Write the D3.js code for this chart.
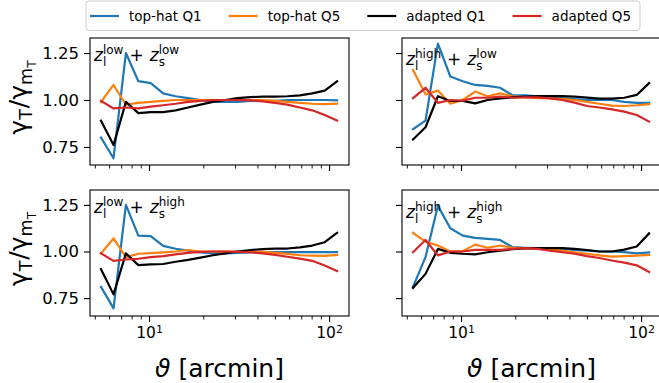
<!DOCTYPE html>
<html><head><meta charset="utf-8">
<script src="https://cdn.jsdelivr.net/npm/d3@7"></script>
<style>body{margin:0;background:#fff}svg{display:block;font-family:"DejaVu Sans",sans-serif}</style>
</head><body><svg id="c" width="659" height="383"></svg>
<script>
// ---------- data ----------
const theta = [5.41, 6.35, 7.44, 8.72, 10.22, 11.98, 14.05, 16.47, 19.30, 22.63,
               26.52, 31.09, 36.45, 42.72, 50.08, 58.70, 68.81, 80.66, 94.55, 110.8];
const seriesNames = ["top-hat Q1", "top-hat Q5", "adapted Q1", "adapted Q5"];
const seriesColors = ["#1f77b4", "#ff7f0e", "#000000", "#d62728"];
const panelLens = ["low", "high", "low", "high"];
const panelSrc  = ["low", "low", "high", "high"];
const yTicks = [0.75, 1.00, 1.25];
const xMajor = [10, 100];
const xMinor = [5, 6, 7, 8, 9, 20, 30, 40, 50, 60, 70, 80, 90];

// top-left: z_l low + z_s low
const tlTopHatQ1 = [0.80, 0.69, 1.25, 1.10, 1.09, 1.035, 1.02, 1.01, 1.00, 0.99, 0.99, 0.99, 0.995, 0.995, 0.995, 1.0, 1.0, 1.0, 1.0, 0.998];
const tlTopHatQ5 = [0.99, 1.08, 0.975, 0.985, 0.99, 0.995, 1.0, 1.0, 1.0, 1.0, 1.0, 1.0, 1.0, 1.0, 0.995, 0.99, 0.985, 0.98, 0.978, 0.98];
const tlAdaptQ1  = [0.89, 0.76, 0.99, 0.93, 0.935, 0.935, 0.945, 0.96, 0.975, 0.99, 1.0, 1.01, 1.015, 1.018, 1.018, 1.02, 1.025, 1.035, 1.05, 1.10];
const tlAdaptQ5  = [0.995, 0.955, 0.96, 0.955, 0.965, 0.972, 0.98, 0.99, 0.995, 1.0, 1.0, 1.0, 0.998, 0.993, 0.985, 0.975, 0.96, 0.945, 0.92, 0.89];
// top-right: z_l high + z_s low
const trTopHatQ1 = [0.845, 0.89, 1.30, 1.125, 1.10, 1.08, 1.075, 1.065, 1.025, 1.025, 1.02, 1.015, 1.01, 1.005, 1.0, 1.0, 1.0, 0.99, 0.985, 0.985];
const trTopHatQ5 = [1.16, 1.03, 1.05, 0.98, 1.0, 1.045, 1.02, 1.035, 1.02, 1.015, 1.01, 1.01, 1.005, 1.0, 0.99, 0.98, 0.97, 0.968, 0.972, 0.978];
const trAdaptQ1  = [0.79, 0.855, 1.02, 0.995, 0.995, 0.982, 1.0, 1.009, 1.014, 1.018, 1.021, 1.021, 1.021, 1.018, 1.013, 1.007, 1.007, 1.012, 1.027, 1.09];
const trAdaptQ5  = [1.01, 1.065, 0.985, 1.0, 0.996, 1.012, 1.012, 1.018, 1.012, 1.014, 1.014, 1.009, 1.0, 0.986, 0.968, 0.96, 0.95, 0.938, 0.92, 0.885];
// bottom-left: z_l low + z_s high
const blTopHatQ1 = [0.81, 0.695, 1.25, 1.085, 1.083, 1.03, 1.015, 1.005, 0.995, 0.99, 0.99, 0.993, 0.995, 0.997, 0.997, 0.997, 0.997, 0.997, 0.997, 0.997];
const blTopHatQ5 = [0.99, 1.07, 0.97, 0.988, 0.991, 0.995, 1.0, 1.008, 1.0, 1.0, 1.0, 1.0, 1.0, 0.998, 0.993, 0.987, 0.98, 0.978, 0.977, 0.982];
const blAdaptQ1  = [0.905, 0.77, 0.99, 0.927, 0.931, 0.933, 0.945, 0.955, 0.967, 0.98, 0.99, 1.0, 1.008, 1.013, 1.015, 1.016, 1.022, 1.032, 1.05, 1.10];
const blAdaptQ5  = [0.99, 0.95, 0.957, 0.961, 0.97, 0.975, 0.985, 0.993, 0.998, 1.0, 1.0, 0.998, 0.996, 0.99, 0.982, 0.972, 0.962, 0.95, 0.925, 0.895];
// bottom-right: z_l high + z_s high
const brTopHatQ1 = [0.81, 0.97, 1.245, 1.125, 1.085, 1.073, 1.068, 1.062, 1.023, 1.02, 1.018, 1.015, 1.012, 1.008, 1.005, 1.0, 1.0, 0.997, 0.99, 0.995];
const brTopHatQ5 = [1.10, 1.053, 1.032, 1.0, 1.002, 1.037, 1.02, 1.032, 1.019, 1.018, 1.015, 1.011, 1.005, 0.996, 0.988, 0.979, 0.973, 0.975, 0.978, 0.982];
const brAdaptQ1  = [0.805, 0.88, 1.014, 0.993, 0.988, 0.985, 0.996, 1.005, 1.012, 1.017, 1.018, 1.018, 1.018, 1.014, 1.008, 1.0, 1.0, 1.01, 1.027, 1.097];
const brAdaptQ5  = [0.996, 1.062, 0.979, 1.0, 1.0, 1.009, 1.009, 1.009, 1.014, 1.018, 1.014, 1.005, 0.996, 0.988, 0.975, 0.965, 0.952, 0.94, 0.926, 0.89];

const panelData = [
  [tlTopHatQ1, tlTopHatQ5, tlAdaptQ1, tlAdaptQ5],
  [trTopHatQ1, trTopHatQ5, trAdaptQ1, trAdaptQ5],
  [blTopHatQ1, blTopHatQ5, blAdaptQ1, blAdaptQ5],
  [brTopHatQ1, brTopHatQ5, brAdaptQ1, brAdaptQ5]
];

// ---------- layout ----------
const svg = d3.select("#c");
const colX = [90, 402], panelW = 259;
const rowY = [38, 190], panelH = [127, 126];
const xDomain = [4.7, 129], yDomain = [0.654, 1.33];
const FONT = '"DejaVu Sans", sans-serif';

function measure(p) {
  const t = svg.append("text").attr("font-size", p.size).attr("font-family", FONT)
    .attr("font-style", p.italic ? "italic" : null).text(p.text);
  const w = t.node().getComputedTextLength();
  t.remove();
  return w;
}
// one <text> element made of tspans, mimicking mathtext sub/superscripts
function mathText(g, parts) {
  const t = g.append("text").attr("x", 0).attr("y", 0).attr("font-family", FONT).attr("fill", "#000");
  let cur = 0, prevStart = 0, maxEnd = 0, curDy = 0;
  parts.forEach(p => {
    const w = measure(p);
    const start = p.stack ? prevStart : maxEnd + (p.before || 0);
    const dy = (p.dy || 0) - curDy;
    t.append("tspan").attr("dx", start - cur).attr("dy", dy)
      .attr("font-size", p.size).attr("font-style", p.italic ? "italic" : null).text(p.text);
    curDy = p.dy || 0;
    cur = start + w;
    if (p.stack) maxEnd = Math.max(maxEnd, start + w);
    else { prevStart = start; maxEnd = start + w; }
  });
  return maxEnd;
}

const defs = svg.append("defs");

panelData.forEach((series, pi) => {
  const col = pi % 2, row = Math.floor(pi / 2);
  const x0 = colX[col], y0 = rowY[row], h = panelH[row];
  const x = d3.scaleLog().domain(xDomain).range([x0, x0 + panelW]);
  const y = d3.scaleLinear().domain(yDomain).range([y0 + h, y0]);
  const g = svg.append("g");

  defs.append("clipPath").attr("id", "clip" + pi)
    .append("rect").attr("x", x0).attr("y", y0).attr("width", panelW).attr("height", h);

  const line = d3.line().x((d, i) => x(theta[i])).y(d => y(d));
  const lg = g.append("g").attr("clip-path", `url(#clip${pi})`);
  series.forEach((vals, si) => {
    lg.append("path").datum(vals).attr("d", line).attr("fill", "none")
      .attr("stroke", seriesColors[si]).attr("stroke-width", 2.2)
      .attr("stroke-linejoin", "round").attr("stroke-linecap", "square");
  });

  // frame
  g.append("rect").attr("x", x0).attr("y", y0).attr("width", panelW).attr("height", h)
    .attr("fill", "none").attr("stroke", "#000").attr("stroke-width", 1.1);

  // x minor ticks
  g.append("g").attr("transform", `translate(0,${y0 + h})`)
    .call(d3.axisBottom(x).tickValues(xMinor).tickSize(3.5).tickFormat(""))
    .call(a => { a.select(".domain").remove(); a.selectAll("line").attr("stroke-width", 0.9); });
  // x major ticks
  const xa = g.append("g").attr("transform", `translate(0,${y0 + h})`)
    .call(d3.axisBottom(x).tickValues(xMajor).tickSize(6).tickPadding(5).tickFormat(d => row === 1 ? String(d) : ""))
    .call(a => { a.select(".domain").remove(); a.selectAll("line").attr("stroke-width", 1.1); });
  if (row === 1) {
    xa.selectAll("text").each(function(d) {
      const t = d3.select(this);
      const e = Math.round(Math.log10(d));
      t.text(null).attr("font-size", 15.5).attr("font-family", FONT).attr("fill", "#000");
      t.append("tspan").text("10");
      t.append("tspan").attr("dy", "-0.42em").attr("font-size", 11).text(e);
    });
  }
  // y ticks
  g.append("g").attr("transform", `translate(${x0},0)`)
    .call(d3.axisLeft(y).tickValues(yTicks).tickSize(6).tickPadding(5).tickFormat(d => col === 0 ? d3.format(".2f")(d) : ""))
    .call(a => {
      a.select(".domain").remove();
      a.selectAll("line").attr("stroke-width", 1.1);
      a.selectAll("text").attr("font-size", 16.5).attr("font-family", FONT).attr("fill", "#000");
    });

  // panel annotation
  const baseOff = [23, 27, 23, 28][pi];
  const ann = svg.append("g").attr("transform", `translate(${x0 + 4},${y0 + baseOff})`);
  mathText(ann, [
    { text: "z", size: 17, italic: true },
    { text: "l", size: 12, dy: 4.5 },
    { text: panelLens[pi], size: 12, dy: -7, stack: true },
    { text: "+", size: 17, before: 6 },
    { text: "z", size: 17, italic: true, before: 6 },
    { text: "s", size: 12, dy: 4.5 },
    { text: panelSrc[pi], size: 12, dy: -7, stack: true }
  ]);

  // axis labels
  if (row === 1) {
    const xl = svg.append("g");
    const w = mathText(xl, [
      { text: "ϑ", size: 25, italic: true },
      { text: "[arcmin]", size: 25, before: 8 }
    ]);
    xl.attr("transform", `translate(${x0 + panelW / 2 - w / 2},377)`);
  }
  if (col === 0) {
    const yl = svg.append("g");
    const w = mathText(yl, [
      { text: "γ", size: 25 },
      { text: "T", size: 17.5, dy: 5 },
      { text: "/", size: 25, before: 1 },
      { text: "γ", size: 25 },
      { text: "m", size: 17.5, dy: 5 },
      { text: "T", size: 12.3, dy: 9 }
    ]);
    yl.attr("transform", `translate(27,${y0 + h / 2 + w / 2 - 4}) rotate(-90)`);
  }
});

// ---------- legend ----------
const leg = svg.append("g");
leg.append("rect").attr("x", 86).attr("y", 1).attr("width", 554).attr("height", 29.5)
  .attr("rx", 3).attr("fill", "#fff").attr("fill-opacity", 0.8)
  .attr("stroke", "#cccccc").attr("stroke-width", 1);
let lx = 90;
seriesNames.forEach((name, i) => {
  leg.append("line").attr("x1", lx).attr("x2", lx + 29).attr("y1", 16).attr("y2", 16)
    .attr("stroke", seriesColors[i]).attr("stroke-width", 2.2);
  const t = leg.append("text").attr("x", lx + 39).attr("y", 21)
    .attr("font-size", 13.5).attr("font-family", FONT).attr("fill", "#000").text(name);
  lx = lx + 39 + t.node().getComputedTextLength() + 27;
});
</script></body></html>
